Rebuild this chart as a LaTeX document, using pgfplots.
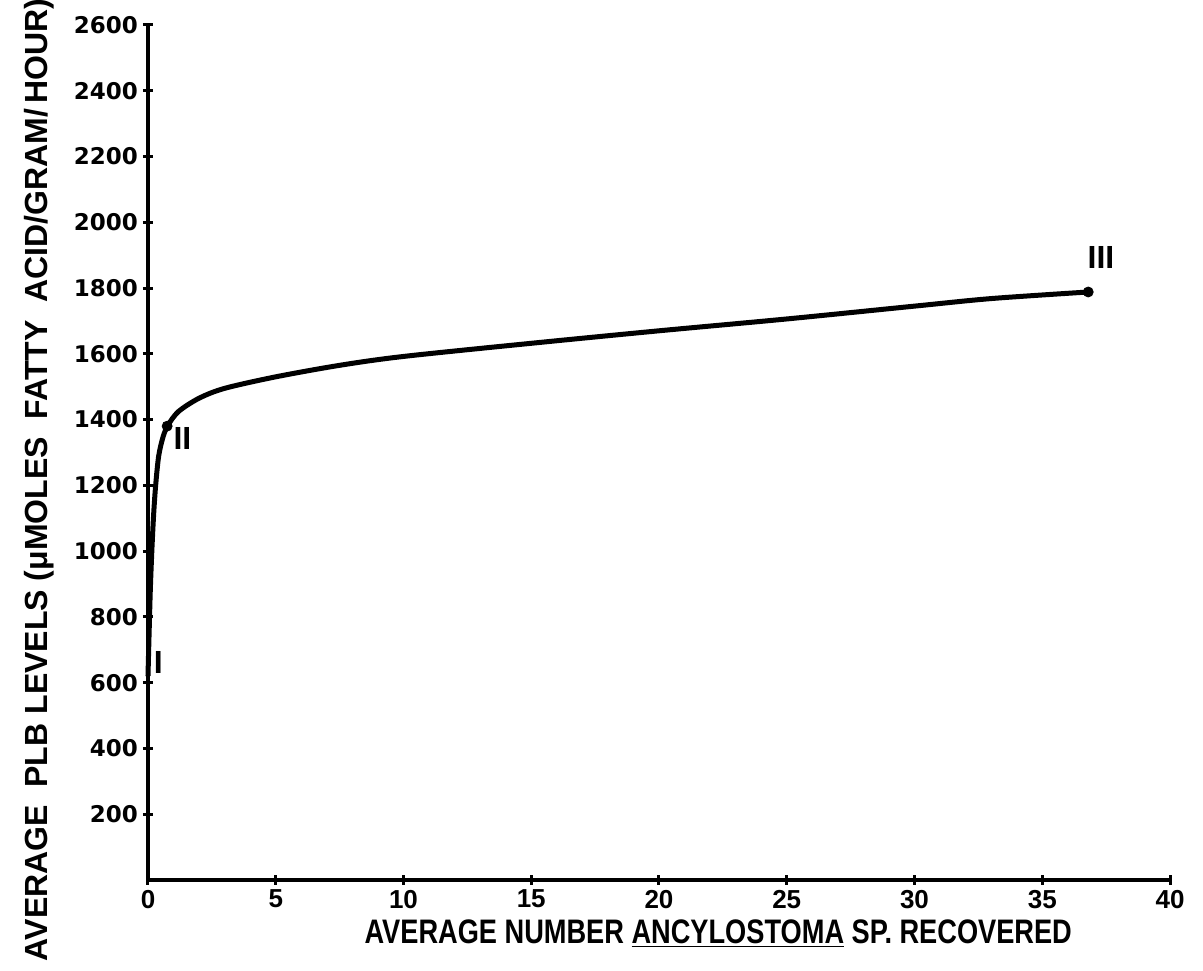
\documentclass[border=0pt]{standalone}
\usepackage{fontspec}
\setmainfont{Liberation Sans}
\newfontfamily\dvs{DejaVu Sans}
\usepackage{pgfplots}
\pgfplotsset{compat=1.18}
\newcommand{\tl}[1]{\bfseries\fontsize{13}{15}\selectfont #1}
\newcommand{\yl}[1]{\dvs\bfseries\fontsize{11.5}{13}\selectfont #1}
\begin{document}
\begin{tikzpicture}
\begin{axis}[
  scale only axis,
  width=511pt, height=427.5pt,
  xmin=0, xmax=40, ymin=0, ymax=2600,
  axis x line=bottom, axis y line=left,
  axis line style={-, line width=2pt},
  xtick={0,5,10,15,20,25,30,35,40},
  xticklabels={\tl{0},\tl{5},\tl{10},\tl{15},\tl{20},\tl{25},\tl{30},\tl{35},\tl{40}},
  ytick={200,400,600,800,1000,1200,1400,1600,1800,2000,2200,2400,2600},
  yticklabels={\yl{200},\yl{400},\yl{600},\yl{800},\yl{1000},\yl{1200},\yl{1400},\yl{1600},\yl{1800},\yl{2000},\yl{2200},\yl{2400},\yl{2600}},
  tick align=center, major tick length=5pt,
  tick style={line width=1.5pt, black},
  xticklabel style={yshift=1pt},
  yticklabel style={xshift=1pt},
  xlabel={\scalebox{0.8}[1]{AVERAGE NUMBER \underline{ANCYLOSTOMA} SP. RECOVERED}},
  xlabel style={at={(axis description cs:0.558,-0.063)}, anchor=center,
    font=\bfseries\fontsize{17}{19}\selectfont},
  ylabel={AVERAGE\ \ PLB LEVELS (μMOLES\ \ FATTY\ \ ACID/GRAM/\,HOUR)},
  ylabel style={at={(axis description cs:-0.106,0.468)}, anchor=center,
    font=\bfseries\fontsize{16}{18}\selectfont},
  clip=false,
]
\addplot[black, line width=2.5pt, smooth, tension=0.5] coordinates {
(0,620) (0.04,740) (0.09,880) (0.15,1000) (0.22,1110) (0.3,1200) (0.42,1290)
(0.6,1350) (0.8,1385) (1.2,1425) (2,1465) (3,1495) (5,1530) (7.5,1565)
(10,1592) (15,1632) (20,1670) (25,1706) (30,1745) (33,1768) (36.8,1788)
};
\addplot[only marks, mark=*, mark size=2.5pt, black] coordinates {(0.75,1380) (36.8,1788)};
\node[font=\bfseries\fontsize{16}{18}\selectfont] at (axis cs:0.4,660) {I};
\node[font=\bfseries\fontsize{16}{18}\selectfont] at (axis cs:1.35,1343) {II};
\node[font=\bfseries\fontsize{16}{18}\selectfont] at (axis cs:37.3,1894) {III};
\coordinate (bbA) at (rel axis cs:-0.1448,-0.1053);
\coordinate (bbB) at (rel axis cs:1.0323,1.0292);
\end{axis}
\pgfresetboundingbox
\path[use as bounding box] (bbA) rectangle (bbB);
\end{tikzpicture}
\end{document}
